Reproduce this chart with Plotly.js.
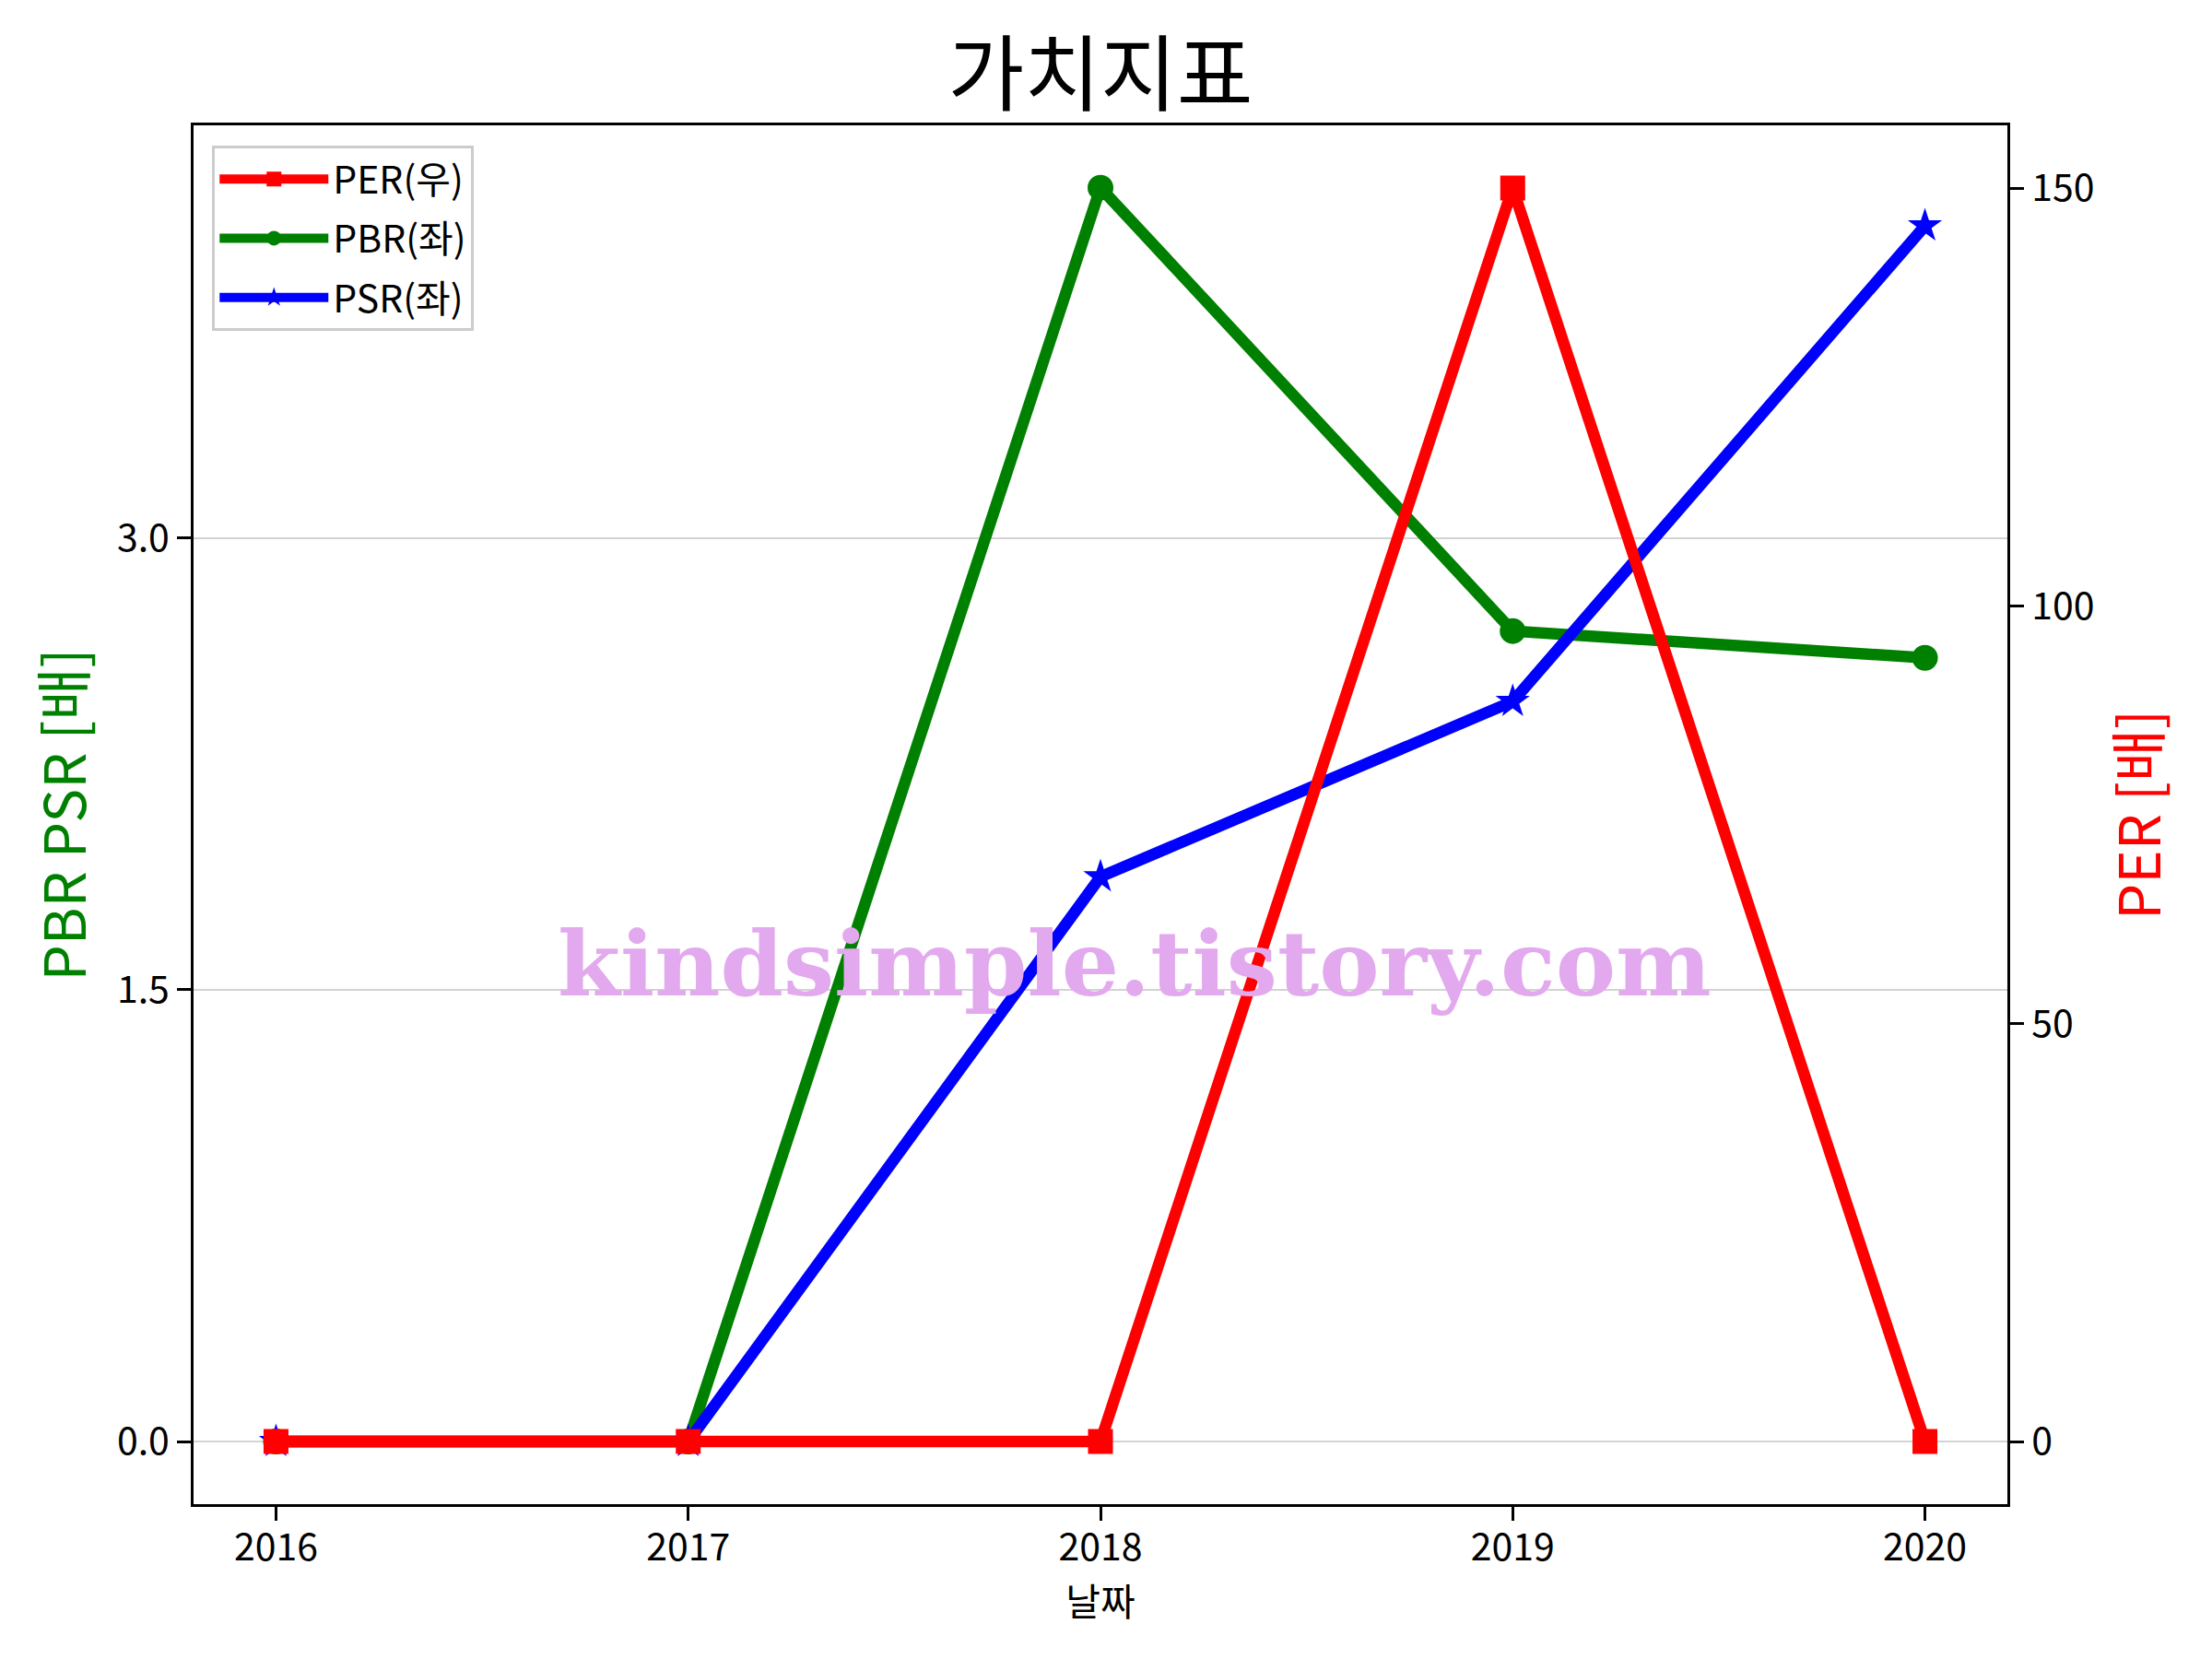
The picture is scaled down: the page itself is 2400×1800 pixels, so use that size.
<!DOCTYPE html>
<html>
<head>
<meta charset="utf-8">
<script src="https://cdn.plot.ly/plotly-3.0.1.min.js"></script>
<style>html,body{margin:0;padding:0;background:#fff;}#chart{width:2400px;height:1800px;}</style>
</head>
<body>
<div id="chart"></div>
<script>
const years = [2016, 2017, 2018, 2019, 2020];
const per = [0, 0, 0, 150, 0];
const pbr = [0, 0, 4.163, 2.691, 2.602];
const psr = [0, 0, 1.875, 2.457, 4.036];
const leftTickVals = [0, 1.5, 3.0];
const leftTickText = ['0.0', '1.5', '3.0'];
const rightTickVals = [0, 50, 100, 150];
const xTickText = ['2016', '2017', '2018', '2019', '2020'];

const FONT = '"Noto Sans CJK KR", "Noto Sans", sans-serif';

const traces = [
  {x: years, y: per, name: 'PER(우)', yaxis: 'y2', mode: 'lines+markers', legendgroup: 'a',
   line: {color: '#ff0000', width: 12.5}, marker: {symbol: 'square', size: 27, color: '#ff0000'}},
  {x: years, y: pbr, name: 'PBR(좌)', yaxis: 'y', mode: 'lines+markers', legendgroup: 'b',
   line: {color: '#008000', width: 12.5}, marker: {symbol: 'circle', size: 28, color: '#008000'}},
  {x: years, y: psr, name: 'PSR(좌)', yaxis: 'y', mode: 'lines+markers', legendgroup: 'c',
   line: {color: '#0000ff', width: 12.5}, marker: {symbol: 'star', size: 28, color: '#0000ff'}}
];

const layout = {
  width: 2400, height: 1800,
  paper_bgcolor: '#ffffff', plot_bgcolor: '#ffffff',
  margin: {l: 210, r: 222, t: 136, b: 168, pad: 0},
  font: {family: FONT, size: 41, color: '#000'},
  showlegend: true,
  title: {text: '가치지표', x: 0.5, xref: 'paper', xanchor: 'center', y: 0.955, yanchor: 'middle',
          font: {family: FONT, size: 90, color: '#000'}},
  xaxis: {
    range: [2015.8, 2020.2], tickvals: years, ticktext: xTickText,
    showgrid: false, zeroline: false, showline: true, mirror: true, linecolor: '#000', linewidth: 3,
    ticks: 'outside', ticklen: 15, tickwidth: 3, tickcolor: '#000',
    tickfont: {family: FONT, size: 41}, ticklabelstandoff: -6,
    title: {text: '날짜', font: {family: FONT, size: 41}, standoff: 6}
  },
  yaxis: {
    range: [-0.208, 4.37], tickvals: leftTickVals, ticktext: leftTickText,
    showgrid: true, gridcolor: '#d3d3d3', gridwidth: 2, zeroline: false,
    showline: true, linecolor: '#000', linewidth: 3,
    ticks: 'outside', ticklen: 15, tickwidth: 3, tickcolor: '#000',
    tickfont: {family: FONT, size: 41},
    title: {text: 'PBR PSR [배]', font: {family: FONT, size: 62, color: '#008000'}, standoff: 14}
  },
  yaxis2: {
    range: [-7.5, 157.5], tickvals: rightTickVals, overlaying: 'y', side: 'right',
    showgrid: false, zeroline: false, showline: true, linecolor: '#000', linewidth: 3,
    ticks: 'outside', ticklen: 15, tickwidth: 3, tickcolor: '#000',
    tickfont: {family: FONT, size: 41},
    title: {text: 'PER [배]', font: {family: FONT, size: 62, color: '#ff0000'}, standoff: 30}
  },
  legend: {
    x: 0.0103, y: 0.9853, xanchor: 'left', yanchor: 'top',
    bgcolor: 'rgba(255,255,255,0.8)', bordercolor: '#cccccc', borderwidth: 3,
    font: {family: FONT, size: 41, color: '#000'},
    tracegroupgap: 8, traceorder: 'grouped', itemwidth: 118
  },
  annotations: [{
    text: 'kindsimple.tistory.com', xref: 'paper', yref: 'paper', x: 0.5187, y: 0.392,
    xanchor: 'center', yanchor: 'middle', showarrow: false,
    font: {family: '"DejaVu Serif", serif', size: 98, color: '#e3a9ee', weight: 'bold'}
  }]
};

Plotly.newPlot('chart', traces, layout, {displayModeBar: false, responsive: false});
</script>
</body>
</html>
